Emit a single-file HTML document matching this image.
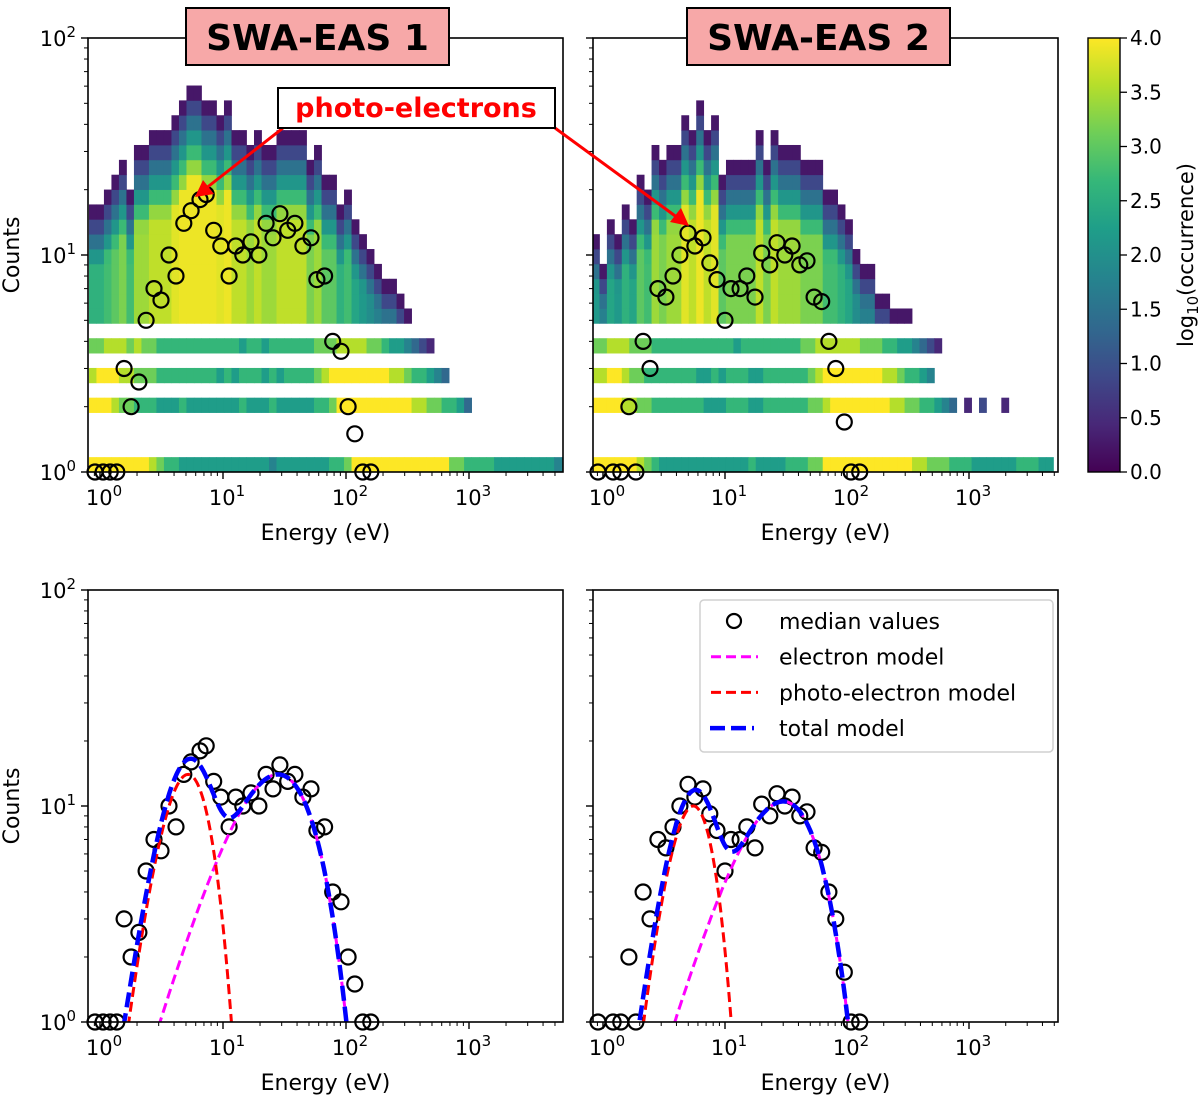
<!DOCTYPE html>
<html><head><meta charset="utf-8"><style>
html,body{margin:0;padding:0;background:#fff;}
svg{display:block;font-family:"DejaVu Sans","Liberation Sans",sans-serif;}
</style></head><body>
<svg id="fig" width="1200" height="1097" viewBox="0 0 1200 1097" xmlns="http://www.w3.org/2000/svg">
<defs>
<clipPath id="clipBL"><rect x="88" y="590" width="475" height="432"/></clipPath>
<clipPath id="clipBR"><rect x="593" y="590" width="465" height="432"/></clipPath>
<linearGradient id="vir" x1="0" y1="1" x2="0" y2="0">
<stop offset="0" stop-color="#440154"/><stop offset="0.11" stop-color="#482878"/><stop offset="0.22" stop-color="#3e4989"/><stop offset="0.33" stop-color="#31688e"/><stop offset="0.44" stop-color="#26828e"/><stop offset="0.56" stop-color="#1f9e89"/><stop offset="0.67" stop-color="#35b779"/><stop offset="0.78" stop-color="#6ece58"/><stop offset="0.89" stop-color="#b5de2b"/><stop offset="1" stop-color="#fde725"/>
</linearGradient>
</defs>
<g id="heat"></g>
<g id="marks"></g>
<g id="axes"></g>
</svg>
<script>
// ---------- data ----------
const medEnergyL = [0.91,1.06,1.21,1.37,1.57,1.79,2.07,2.37,2.75,3.13,3.64,4.15,4.8,5.5,6.5,7.3,8.4,9.6,11.2,12.7,14.5,16.9,19.6,22.4,25.5,29,33.6,38.4,44.6,51.9,58,67,78,91,104,118,137,159];
const medCountsL = [1,1,1,1,3,2,2.6,5,7,6.2,10,8,14,16,18,19,13,11,8,11,10,11.5,10,14,12,15.5,13,14,11,12,7.7,8,4,3.6,2,1.5,1,1];
const medEnergyR = [0.91,1.21,1.4,1.63,1.86,2.13,2.43,2.82,3.28,3.75,4.27,4.97,5.67,6.6,7.5,8.6,10,11.2,13.3,15.1,17.6,20,23.3,26.7,30.9,35.5,41,47,53.7,62,71,81,95,108,127];
const medCountsR = [1,1,1,2,1,4,3,7,6.4,8,10,12.6,11,12,9.2,7.7,5,7,7,8,6.4,10.2,9,11.4,10,11,9,9.4,6.4,6.1,4,3,1.7,1,1];
// model parameters [amplitude, peak energy, exponent]
const photoL = [14, 5.2, 6];
const elecL = [14, 28, 2];
const photoR = [10, 5.5, 7];
const elecR = [10.5, 30, 2];
// histogram: max count per energy column (upper region)
const colMaxL = [16,16,19,22,25,19,30,30,35,35,35,40,48,55,55,48,48,40,48,35,35,30,35,30,30,35,35,35,35,25,30,22,22,16,19,13,11,10,9,7,7,6,5];
const colMaxR = [11,9,13,11,16,13,22,19,30,25,30,30,40,35,48,35,40,22,25,25,25,25,35,25,35,30,30,30,25,25,25,19,19,16,13,10,9,9,6,6,5,5,5];
// low-count bands (counts 1..4): occurrence level per column, digit 0-9 -> 0..4, '-' empty
const bandL1 = "999999998766555555555555455555556679999999999999776666555555554455";
const bandL2 = "999877666555655555556555655555667999999999988776653";
const bandL3 = "899988777666666665656665656666789999999988766543";
const bandL4 = "7788878776666666666656656666667778888776554321";
const bandR1 = "99999987655555555555565555666779999999999998877766655555566655";
const bandR2 = "9999887766666665556665566666677899999999887766543-1-2--1";
const bandR3 = "8899877666666655656665566666678999999998876654";
const bandR4 = "77888777666666666665666666667788888877766554321";
const cbTicks = ["0.0","0.5","1.0","1.5","2.0","2.5","3.0","3.5","4.0"];

// ---------- helpers ----------
const NS="http://www.w3.org/2000/svg";
function mk(tag, attrs, parent){const e=document.createElementNS(NS,tag);for(const k in attrs)e.setAttribute(k,attrs[k]);parent.appendChild(e);return e;}
const stops=[[0,[68,1,84]],[0.11,[72,40,120]],[0.22,[62,73,137]],[0.33,[49,104,142]],[0.44,[38,130,142]],[0.56,[31,158,137]],[0.67,[53,183,121]],[0.78,[110,206,88]],[0.89,[181,222,43]],[1,[253,231,37]]];
function vir(t){t=Math.max(0,Math.min(1,t));for(let i=1;i<stops.length;i++){if(t<=stops[i][0]){const a=stops[i-1],b=stops[i];const f=(t-a[0])/(b[0]-a[0]);return "rgb("+a[1].map((c,j)=>Math.round(c+(b[1][j]-c)*f)).join(",")+")";}}return "rgb(253,231,37)";}
const heat=document.getElementById('heat'), marks=document.getElementById('marks'), axes=document.getElementById('axes');

const panels=[
 {x0:88,x1:563,y0:38,y1:472,x10:100,dec:123,ydec:217,name:'top-left'},
 {x0:593,x1:1058,y0:38,y1:472,x10:603,dec:122,ydec:217,name:'top-right'},
 {x0:88,x1:563,y0:590,y1:1022,x10:100,dec:123,ydec:216,name:'bottom-left'},
 {x0:593,x1:1058,y0:590,y1:1022,x10:603,dec:122,ydec:216,name:'bottom-right'}];
function xs(p,E){return p.x10+Math.log10(E)*p.dec;}
function ys(p,c){return p.y1-Math.log10(c)*p.ydec;}

// ---------- heatmaps ----------
const BW=0.0685, XB0=-0.09, XBW=0.061;
function drawHeat(p, colMax, bands){
  const g=mk('g',{},heat);
  
  
  const ncol=Math.ceil(((p.x1-p.x0)/p.dec-0)/XBW)+2;
  function colX(i){return [Math.max(p.x0,p.x10+(XB0+i*XBW)*p.dec), Math.min(p.x1,p.x10+(XB0+(i+1)*XBW)*p.dec)];}
  function cell(i,bin,v){const [a,b]=colX(i); if(b<=a) return;
    const yt=Math.max(p.y0,p.y1-(bin+1)*BW*p.ydec), yb=Math.min(p.y1,p.y1-bin*BW*p.ydec);
    mk('rect',{x:a.toFixed(2),y:yt.toFixed(2),width:(b-a+0.4).toFixed(2),height:(yb-yt+0.4).toFixed(2),fill:vir(v/4)},g);}
  const bandBins=[0,4,6,8];
  bands.forEach((s,k)=>{for(let i=0;i<s.length&&i<ncol;i++){const ch=s[i]; if(ch==='-')continue; cell(i,bandBins[k],parseInt(ch)*4/9);}});
  colMax.forEach((m,i)=>{const top=Math.floor(Math.log10(m)/BW);const cap=Math.min(3.9,1.1+0.21*(top-10));
    for(let b=10;b<=top;b++){const d=top-b;cell(i,b,Math.min(cap,0.25+0.62*d));}});
}
drawHeat(panels[0],colMaxL,[bandL1,bandL2,bandL3,bandL4]);
drawHeat(panels[1],colMaxR,[bandR1,bandR2,bandR3,bandR4]);

// ---------- markers & models ----------
function circles(p,E,C,name){const g=mk('g',{},marks);
  
  
  E.forEach((e,i)=>{const cy=Math.min(ys(p,C[i]),p.y1);const c=mk('circle',{cx:xs(p,e).toFixed(1),cy:cy.toFixed(1),r:7.5,fill:'none',stroke:'#000','stroke-width':2.2},g);
    
    });}
function model(par,E){const [A,T,n]=par;const x=E/T;return A*Math.pow(x*Math.exp(1-x),n);}
function curve(p,fn,stroke,w,dash,clip,name){let d='';for(let k=0;k<=400;k++){const E=Math.pow(10,-0.1+k*2.6/400);const v=Math.max(fn(E),0.3);d+=(k?'L':'M')+xs(p,E).toFixed(1)+','+ys(p,v).toFixed(1);}
  const e=mk('path',{d:d,fill:'none',stroke:stroke,'stroke-width':w,'stroke-dasharray':dash,'clip-path':'url(#'+clip+')'},marks);
  
  }
circles(panels[0],medEnergyL,medCountsL,'median-points-top-left');
circles(panels[1],medEnergyR,medCountsR,'median-points-top-right');
circles(panels[2],medEnergyL,medCountsL,'median-points-bottom-left');
circles(panels[3],medEnergyR,medCountsR,'median-points-bottom-right');
[[panels[2],photoL,elecL,'clipBL'],[panels[3],photoR,elecR,'clipBR']].forEach(([p,ph,el,cl])=>{
  curve(p,E=>model(el,E),'#ff00ff',3,'10,5',cl,'electron-model-line');
  curve(p,E=>model(ph,E),'#ff0000',3,'10,5',cl,'photo-electron-model-line');
  curve(p,E=>model(el,E)+model(ph,E),'#0000ff',4.5,'15,6',cl,'total-model-line');
});

// ---------- axes ----------
function sup(parent,x,y,exp,anchor,name){const t=mk('text',{x:x,y:y,'font-size':21,'text-anchor':anchor,fill:'#000'},parent);
  
  
  t.appendChild(document.createTextNode('10'));const s=mk('tspan',{dy:-9,'font-size':15},t);s.textContent=exp;}
panels.forEach((p,pi)=>{
  const g=mk('g',{},axes);
  
  
  mk('rect',{x:p.x0,y:p.y0,width:p.x1-p.x0,height:p.y1-p.y0,fill:'none',stroke:'#000','stroke-width':1.6},g);
  for(let dcd=0;dcd<=3;dcd++){for(let m=1;m<10;m++){const E=m*Math.pow(10,dcd);const x=xs(p,E);if(x<p.x0||x>p.x1)continue;
    mk('line',{x1:x,y1:p.y1,x2:x,y2:p.y1+(m===1?7:4),stroke:'#000','stroke-width':m===1?1.4:1},g);
    if(m===1) sup(g,x+4,p.y1+33,String(dcd),'middle','x-tick-label');}}
  const x9=xs(p,0.9);mk('line',{x1:x9,y1:p.y1,x2:x9,y2:p.y1+4,stroke:'#000','stroke-width':1},g);
  for(let dcd=0;dcd<=2;dcd++){for(let m=1;m<10;m++){if(dcd===2&&m>1)break;const c=m*Math.pow(10,dcd);const y=ys(p,c);
    mk('line',{x1:p.x0,y1:y,x2:p.x0-(m===1?7:4),y2:y,stroke:'#000','stroke-width':m===1?1.4:1},g);
    if(m===1&&(pi===0||pi===2)) sup(g,p.x0-12,y+8,String(dcd),'end','y-tick-label');}}
  const xl=mk('text',{x:(p.x0+p.x1)/2,y:p.y1+68,'font-size':22,'text-anchor':'middle'},g);xl.textContent='Energy (eV)';
  
  
  if(pi===0||pi===2){const cy=(p.y0+p.y1)/2;const yl=mk('text',{x:0,y:0,'font-size':22,'text-anchor':'middle',transform:'translate(19,'+cy+') rotate(-90)'},g);yl.textContent='Counts';
    
    }
});

// colorbar
const cb=mk('g',{},axes);


mk('rect',{x:1088,y:38,width:32,height:434,fill:'url(#vir)',stroke:'#000','stroke-width':1.4},cb);
cbTicks.forEach((t,i)=>{const y=472-i*434/(cbTicks.length-1);mk('line',{x1:1120,y1:y,x2:1127,y2:y,stroke:'#000','stroke-width':1.3},cb);
  const tx=mk('text',{x:1130,y:y+7,'font-size':20},cb);tx.textContent=t;
  
  });
const cbl=mk('text',{x:0,y:0,'font-size':21,'text-anchor':'middle',transform:'translate(1193,255) rotate(-90)'},cb);


cbl.appendChild(document.createTextNode('log'));const sb=mk('tspan',{dy:5,'font-size':15},cbl);sb.textContent='10';const rs=mk('tspan',{dy:-5},cbl);rs.textContent='(occurrence)';

// titles
[[186,449,'SWA-EAS 1'],[687,950,'SWA-EAS 2']].forEach(([a,b,t])=>{const g=mk('g',{},axes);
  
  
  mk('rect',{x:a,y:8,width:b-a,height:57,fill:'#f7a8a8',stroke:'#000','stroke-width':2},g);
  const tx=mk('text',{x:(a+b)/2,y:50,'font-size':36,'font-weight':'bold','text-anchor':'middle','font-family':'"DejaVu Sans",sans-serif'},g);tx.textContent=t;});

// annotation
const an=mk('g',{},axes);


mk('line',{x1:283,y1:128,x2:205,y2:189,stroke:'#ff0000','stroke-width':3},an);
mk('polygon',{points:'195,197 203,180 214,194',fill:'#ff0000'},an);
mk('line',{x1:555,y1:128,x2:678,y2:218,stroke:'#ff0000','stroke-width':3},an);
mk('polygon',{points:'689,226 670,222 681,208',fill:'#ff0000'},an);
mk('rect',{x:278,y:88,width:277,height:40,fill:'#fff',stroke:'#000','stroke-width':2},an);
const at=mk('text',{x:416,y:117,'font-size':27,'font-weight':'bold','text-anchor':'middle',fill:'#ff0000','font-family':'"DejaVu Sans",sans-serif'},an);at.textContent='photo-electrons';

// legend
const lg=mk('g',{},axes);


mk('rect',{x:700,y:600,width:353,height:152,rx:4,fill:'#fff',stroke:'#d0d0d0','stroke-width':1.5},lg);
const entries=[['median values',null],['electron model','#ff00ff'],['photo-electron model','#ff0000'],['total model','#0000ff']];
entries.forEach(([t,c],i)=>{const y=621+i*35.7;const eg=mk('g',{},lg);
  
  
  if(!c) mk('circle',{cx:734,cy:y,r:7,fill:'none',stroke:'#000','stroke-width':2.2},eg);
  else if(i<3) mk('line',{x1:711,y1:y,x2:758,y2:y,stroke:c,'stroke-width':3,'stroke-dasharray':'10,5'},eg);
  else mk('line',{x1:710,y1:y,x2:754,y2:y,stroke:c,'stroke-width':4.5,'stroke-dasharray':'15,6'},eg);
  const tx=mk('text',{x:779,y:y+8,'font-size':22},eg);tx.textContent=t;});
</script>
</body></html>
